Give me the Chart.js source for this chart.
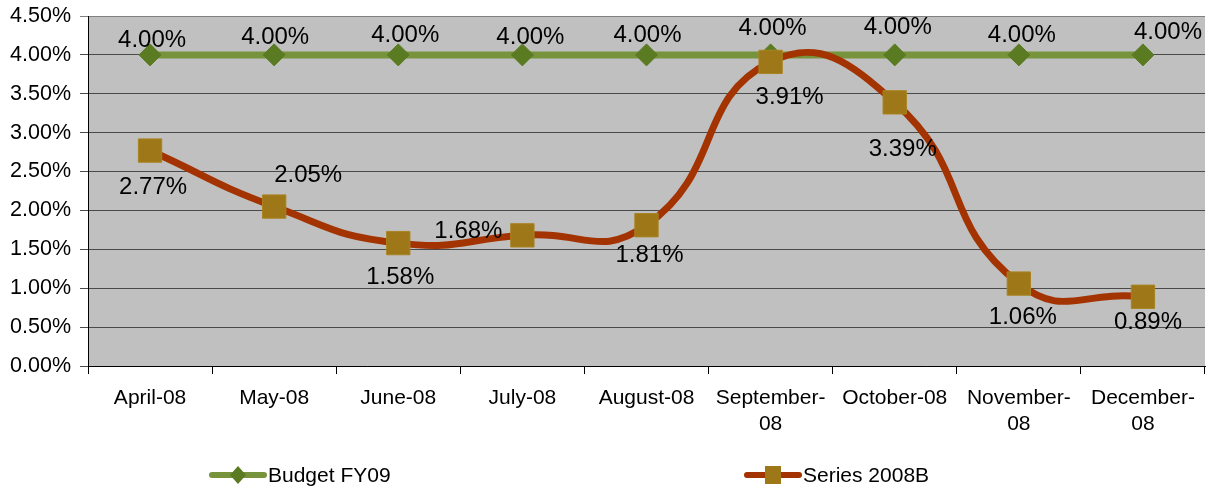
<!DOCTYPE html>
<html lang="en">
<head>
    <meta charset="UTF-8">
    <title>Budget FY09 vs Series 2008B</title>
    <script src="https://cdn.jsdelivr.net/npm/chart.js"></script>
    <style>
        html, body { margin: 0; padding: 0; background: #fff; }
        .chart-container { width: 1210px; height: 493px; }
    </style>
</head>
<body>
    <div class="chart-container">
        <canvas id="rateChart" width="1210" height="493"></canvas>
    </div>

    <script>
        // data
        const months = ['April-08', 'May-08', 'June-08', 'July-08', 'August-08',
            ['September-', '08'], 'October-08', ['November-', '08'], ['December-', '08']];
        const budgetFY09 = [4.00, 4.00, 4.00, 4.00, 4.00, 4.00, 4.00, 4.00, 4.00];
        const series2008B = [2.77, 2.05, 1.58, 1.68, 1.81, 3.91, 3.39, 1.06, 0.89];
        const yTicks = [0, 0.5, 1, 1.5, 2, 2.5, 3, 3.5, 4, 4.5];

        // where each value label sits relative to its point (dx, dy)
        const budgetLabelOffsets = [[2, -15], [1, -18], [7, -20], [8, -18], [1, -20], [2, -27], [3, -28], [3, -20], [25, -23]];
        const seriesLabelOffsets = [[3, 37], [34, -31], [2, 34], [-54, -4], [3, 30], [19, 35], [8, 47], [4, 34], [5, 26]];

        const FONT = "'Liberation Sans', Arial, sans-serif";
        const GREEN = '#77933C';
        const GREEN_MARK = '#5B7B22';
        const RUST = '#A33300';
        const GOLD = '#9E7718';

        const fmt = v => v.toFixed(2) + '%';

        // grey plot area
        const plotBackground = {
            id: 'plotBackground',
            beforeDraw(chart) {
                const { ctx, chartArea: a } = chart;
                ctx.save();
                ctx.fillStyle = '#C0C0C0';
                ctx.fillRect(a.left, a.top, a.right - a.left, a.bottom - a.top);
                ctx.restore();
            }
        };

        // value labels next to each point
        const valueLabels = {
            id: 'valueLabels',
            afterDatasetsDraw(chart) {
                const ctx = chart.ctx;
                const offsets = [budgetLabelOffsets, seriesLabelOffsets];
                ctx.save();
                ctx.font = '24px ' + FONT;
                ctx.fillStyle = '#000';
                ctx.textAlign = 'center';
                ctx.textBaseline = 'middle';
                chart.data.datasets.forEach((ds, i) => {
                    chart.getDatasetMeta(i).data.forEach((pt, j) => {
                        const [dx, dy] = offsets[i][j];
                        ctx.fillText(fmt(ds.data[j]), pt.x + dx, pt.y + dy);
                    });
                });
                ctx.restore();
            }
        };

        // legend along the bottom, drawn by hand to match the spacing
        const bottomLegend = {
            id: 'bottomLegend',
            afterDraw(chart) {
                const ctx = chart.ctx;
                const y = 475;
                ctx.save();
                ctx.lineCap = 'round';
                ctx.lineWidth = 6;

                ctx.strokeStyle = GREEN;
                ctx.beginPath(); ctx.moveTo(212, y); ctx.lineTo(264, y); ctx.stroke();
                ctx.fillStyle = GREEN_MARK;
                ctx.beginPath();
                ctx.moveTo(238, y - 9); ctx.lineTo(246, y); ctx.lineTo(238, y + 9); ctx.lineTo(230, y);
                ctx.closePath(); ctx.fill();

                ctx.strokeStyle = RUST;
                ctx.beginPath(); ctx.moveTo(747, y); ctx.lineTo(799, y); ctx.stroke();
                ctx.fillStyle = GOLD;
                ctx.fillRect(765, y - 9, 16, 18);

                ctx.fillStyle = '#000';
                ctx.font = '21px ' + FONT;
                ctx.textBaseline = 'middle';
                ctx.fillText(chart.data.datasets[0].label, 268, y + 1);
                ctx.fillText(chart.data.datasets[1].label, 803, y + 1);
                ctx.restore();
            }
        };

        const ctx = document.getElementById('rateChart').getContext('2d');
        new Chart(ctx, {
            type: 'line',
            data: {
                labels: months,
                datasets: [{
                    label: 'Budget FY09',
                    data: budgetFY09,
                    borderColor: GREEN,
                    borderWidth: 7,
                    pointStyle: 'rectRot',
                    pointRadius: 11,
                    pointBackgroundColor: GREEN_MARK,
                    pointBorderColor: GREEN_MARK,
                    pointBorderWidth: 1,
                    tension: 0,
                    order: 1
                }, {
                    label: 'Series 2008B',
                    data: series2008B,
                    borderColor: RUST,
                    borderWidth: 7,
                    pointStyle: 'rect',
                    pointRadius: 16.5,
                    pointBackgroundColor: GOLD,
                    pointBorderColor: '#A98420',
                    pointBorderWidth: 1,
                    tension: 0.5,
                    order: 0
                }]
            },
            options: {
                responsive: false,
                animation: false,
                events: [],
                layout: { autoPadding: false, padding: { top: 16, right: 5, left: 0, bottom: 0 } },
                plugins: {
                    legend: { display: false },
                    tooltip: { enabled: false }
                },
                scales: {
                    x: {
                        offset: true,
                        grid: {
                            offset: true,
                            drawOnChartArea: false,
                            drawTicks: true,
                            tickLength: 8,
                            color: '#000'
                        },
                        border: { color: '#000', width: 1 },
                        ticks: {
                            color: '#000',
                            font: { family: FONT, size: 21, lineHeight: 1.26 },
                            padding: 11,
                            maxRotation: 0,
                            autoSkip: false
                        },
                        afterFit(scale) {
                            scale.height = 127;
                            scale.paddingLeft = 0;
                            scale.paddingRight = 0;
                        }
                    },
                    y: {
                        min: 0,
                        max: 4.5,
                        afterBuildTicks(scale) { scale.ticks = yTicks.map(v => ({ value: v })); },
                        grid: {
                            color: ctx => ctx.tick && ctx.tick.value === 4.5 ? '#808080' : '#4a4a4a',
                            lineWidth: 1,
                            tickLength: 8
                        },
                        border: { color: '#000', width: 1 },
                        ticks: {
                            color: '#000',
                            font: { family: FONT, size: 21.5 },
                            padding: 9,
                            callback: v => fmt(v)
                        },
                        afterFit(scale) {
                            scale.width = 88;
                            scale.paddingTop = 0;
                            scale.paddingBottom = 0;
                        }
                    }
                }
            },
            plugins: [plotBackground, valueLabels, bottomLegend]
        });
    </script>
</body>
</html>
